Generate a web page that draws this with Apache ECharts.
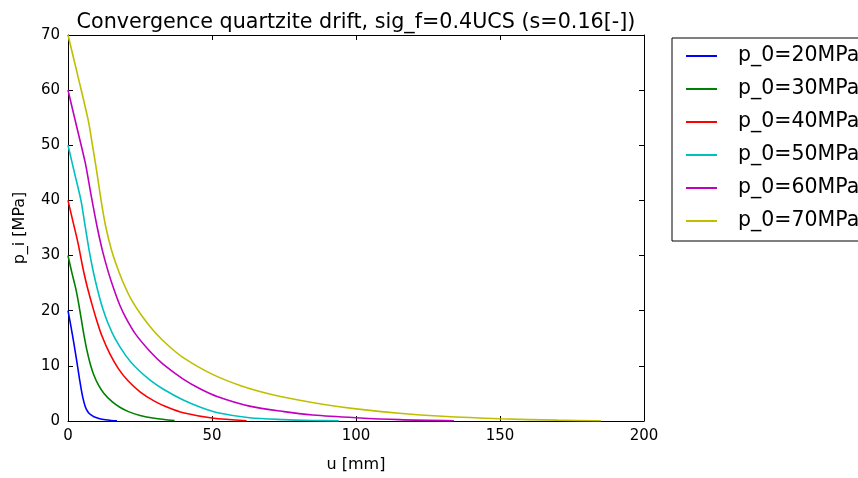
<!DOCTYPE html>
<html>
<head>
<meta charset="utf-8">
<script src="https://cdn.jsdelivr.net/npm/echarts@6/dist/echarts.min.js"></script>
<style>html,body{margin:0;padding:0;background:#fff;}#c{width:858px;height:478px;}</style>
</head>
<body>
<div id="c"></div>
<script>
const titleText = 'Convergence quartzite drift, sig_f=0.4UCS (s=0.16[-])';
const seriesNames = ['p_0=20MPa','p_0=30MPa','p_0=40MPa','p_0=50MPa','p_0=60MPa','p_0=70MPa'];
const seriesColors = ['#0000ff','#008000','#ff0000','#00bfbf','#bf00bf','#bfbf00'];
const xTicks = [0, 50, 100, 150, 200];
const yTicks = [0, 10, 20, 30, 40, 50, 60, 70];

const u20 = [0,1,2,3,4,5,6,7,8,9,11,13,15,17];
const p20 = [20,17.2,14.2,11,7.6,4.6,2.6,1.6,1.1,0.78,0.42,0.22,0.1,0.03];
const u30 = [0,1.3,2.7,3.7,4.6,5.4,6.5,7.8,9,10.6,12.5,15.3,18,21,25,30,37];
const p30 = [30,27,24,21.3,18.5,16,13,10.2,8.3,6.5,5,3.5,2.5,1.7,1,0.5,0.08];
const u40 = [0,1.75,3.5,5,6.5,8.3,10,11.8,14.5,17.6,21,25,30,35,40,50,62];
const p40 = [40,36.1,32.2,28.2,24.7,21.2,18.2,15.4,12.2,9.4,7.2,5.3,3.6,2.4,1.5,0.55,0.05];
const u50 = [0,2.25,4.5,6,7.5,8.9,10.5,12,14,16.4,20,23.4,28.5,33,40,46,52,63,75,85,94];
const p50 = [50,45,40,35.2,30.5,26.8,23.3,20.5,17.6,14.9,11.9,9.8,7.4,5.8,3.8,2.5,1.5,0.6,0.25,0.1,0.03];
const u60 = [0,3,6,8,10,12,14,16,18,20,23.4,28.5,33,40,46,52,63,75,85,100,115,134];
const p60 = [60,53.4,46.8,41,35.5,30.8,27,23.8,21,18.8,15.8,12.6,10.3,7.6,5.8,4.4,2.7,1.7,1.1,0.6,0.25,0.05];
const u70 = [0,3.5,7,8.5,10,11.5,13,15,17,19,22,26,30,35,40,50,60,70,80,90,100,115,130,150,170,185];
const p70 = [70,62.4,54.6,50,45.2,40,35.5,31.2,28,25.3,22,18.8,16.2,13.6,11.5,8.5,6.4,4.9,3.8,2.9,2.2,1.4,0.85,0.4,0.15,0.05];

const uAll = [u20,u30,u40,u50,u60,u70];
const pAll = [p20,p30,p40,p50,p60,p70];

const FONT = 'DejaVu Sans';
const chart = echarts.init(document.getElementById('c'), null, {renderer:'canvas'});

const baseAxis = {
  axisLine:{show:true, onZero:false, lineStyle:{color:'#000', width:1}},
  axisTick:{show:true, inside:true, length:5, lineStyle:{color:'#000', width:1}},
  splitLine:{show:false}
};

const option = {
  backgroundColor:'#fff',
  animation:false,
  title:{
    text:titleText, left:351, top:7, textAlign:'center',
    textStyle:{fontFamily:FONT, fontSize:20.7, fontWeight:'normal', color:'#000'}
  },
  grid:{left:68, right:214, top:35, bottom:57, containLabel:false},
  legend:{
    orient:'vertical', left:672, top:38,
    data:seriesNames, icon:'rect', itemWidth:31, itemHeight:2, itemGap:11,
    padding:[7,10,9,14],
    borderColor:'#000', borderWidth:1, backgroundColor:'#fff',
    textStyle:{fontFamily:FONT, fontSize:20.5, color:'#000', lineHeight:22, padding:[0,0,0,16]}
  },
  xAxis:[
    Object.assign({}, baseAxis, {
      type:'value', min:xTicks[0], max:xTicks[xTicks.length-1], interval:xTicks[1]-xTicks[0],
      position:'bottom', name:'u [mm]', nameLocation:'middle', nameGap:36,
      nameTextStyle:{fontFamily:FONT, fontSize:16, color:'#000'},
      axisLabel:{fontFamily:FONT, fontSize:15, color:'#000', margin:8}
    }),
    Object.assign({}, baseAxis, {
      type:'value', min:xTicks[0], max:xTicks[xTicks.length-1], interval:xTicks[1]-xTicks[0],
      position:'top', axisLabel:{show:false}
    })
  ],
  yAxis:[
    Object.assign({}, baseAxis, {
      type:'value', min:yTicks[0], max:yTicks[yTicks.length-1], interval:yTicks[1]-yTicks[0],
      position:'left', name:'p_i [MPa]', nameLocation:'middle', nameGap:40,
      nameTextStyle:{fontFamily:FONT, fontSize:16, color:'#000'},
      axisLabel:{fontFamily:FONT, fontSize:15, color:'#000', margin:8}
    }),
    Object.assign({}, baseAxis, {
      type:'value', min:yTicks[0], max:yTicks[yTicks.length-1], interval:yTicks[1]-yTicks[0],
      position:'right', axisLabel:{show:false}
    })
  ],
  series: seriesNames.map((n,i)=>({
    name:n, type:'line', xAxisIndex:0, yAxisIndex:0,
    data: uAll[i].map((u,k)=>[u, pAll[i][k]]),
    symbol:'none', smooth:0.3, clip:true,
    lineStyle:{color:seriesColors[i], width:1.6},
    itemStyle:{color:seriesColors[i]}
  }))
};
chart.setOption(option);
</script>
</body>
</html>
